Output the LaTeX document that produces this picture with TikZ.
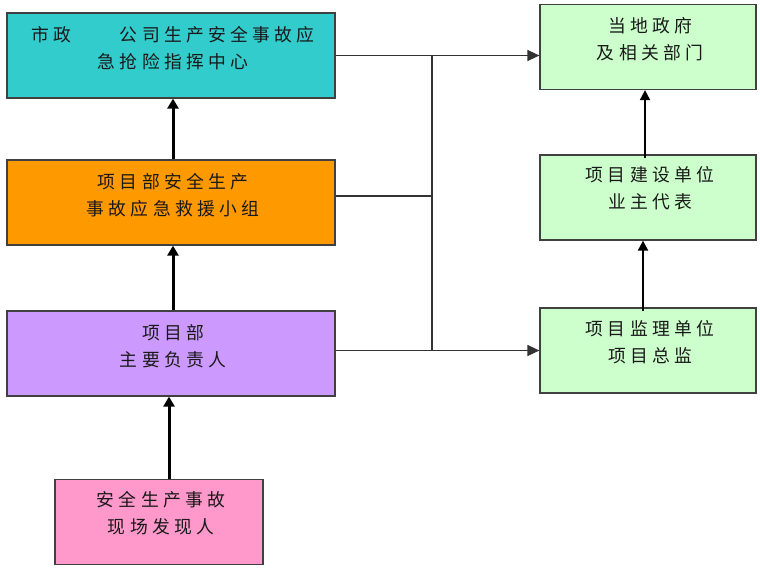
\documentclass[tikz,border=0pt]{standalone}
\usepackage{fontspec}
\setmainfont{Noto Sans CJK SC}[LetterSpace=24]
\usetikzlibrary{arrows.meta}
\definecolor{cteal}{HTML}{33CCCC}
\definecolor{corange}{HTML}{FF9900}
\definecolor{cpurple}{HTML}{CC99FF}
\definecolor{cpink}{HTML}{FF99CC}
\definecolor{cgreen}{HTML}{CCFFCC}
\definecolor{cborder}{HTML}{404040}
\begin{document}
\begin{tikzpicture}[x=1pt,y=-1pt,
  box/.style={draw=cborder, line width=1.2pt, rectangle, inner sep=0pt},
  lbox/.style={box, minimum width=328pt, minimum height=85pt},
  rbox/.style={box, minimum width=216pt, minimum height=85pt, fill=cgreen},
  txt/.style={align=center, inner sep=0pt, text=black!90, font=\fontsize{17.8}{27}\selectfont},
  bigarrow/.style={line width=3pt, -{Triangle[length=10pt,width=11pt]}},
  smallarrow/.style={line width=1.8pt, -{Triangle[length=10pt,width=10pt]}},
  conn/.style={line width=1.4pt, draw=black!80},
  connarrow/.style={conn, -{Triangle[length=12pt,width=11pt]}}
]
\useasboundingbox (0,0) rectangle (760,570);
% left column
\node[lbox, fill=cteal] (A) at (171,55.5) {};
\node[txt] (At) at (173,48) {市政　　公司生产安全事故应\\急抢险指挥中心};
\node[lbox, fill=corange] (B) at (171,202.5) {};
\node[txt] (Bt) at (173,195.5) {项目部安全生产\\事故应急救援小组};
\node[lbox, fill=cpurple] (C) at (171,353.5) {};
\node[txt] (Ct) at (173,346) {项目部\\主要负责人};
\node[box, fill=cpink, minimum width=208pt, minimum height=85pt] (D) at (159,522) {};
\node[txt] (Dt) at (161,513.5) {安全生产事故\\现场发现人};
% right column
\node[rbox] (E) at (648,47) {};
\node[txt] (Et) at (650,39) {当地政府\\及相关部门};
\node[rbox] (F) at (648,197.5) {};
\node[txt] (Ft) at (650,188.5) {项目建设单位\\业主代表};
\node[rbox] (G) at (648,350.5) {};
\node[txt] (Gt) at (650,342) {项目监理单位\\项目总监};
% coordinates
\coordinate (xl) at (173,0);
\coordinate (xd) at (169,0);
\coordinate (xr1) at (645,0);
\coordinate (xr2) at (643,0);
\coordinate (j1) at (432,55.5);
\coordinate (jb) at (432,196);
\coordinate (j3) at (432,350.5);
% vertical arrows
\draw[bigarrow] (B.north -| xl) -- (A.south -| xl);
\draw[bigarrow] (C.north -| xl) -- (B.south -| xl);
\draw[bigarrow] (D.north -| xd) -- (C.south -| xd);
\draw[smallarrow] ([yshift=-4pt]F.north -| xr1) -- (E.south -| xr1);
\draw[smallarrow] ([yshift=-4pt]G.north -| xr2) -- (F.south -| xr2);
% connectors
\draw[connarrow] (A.east) -- (A.east -| E.west);
\draw[conn] (j1) -- (j3);
\draw[conn] (B.east |- jb) -- (jb);
\draw[connarrow] (C.east |- G.west) -- (G.west);
\end{tikzpicture}
\end{document}
